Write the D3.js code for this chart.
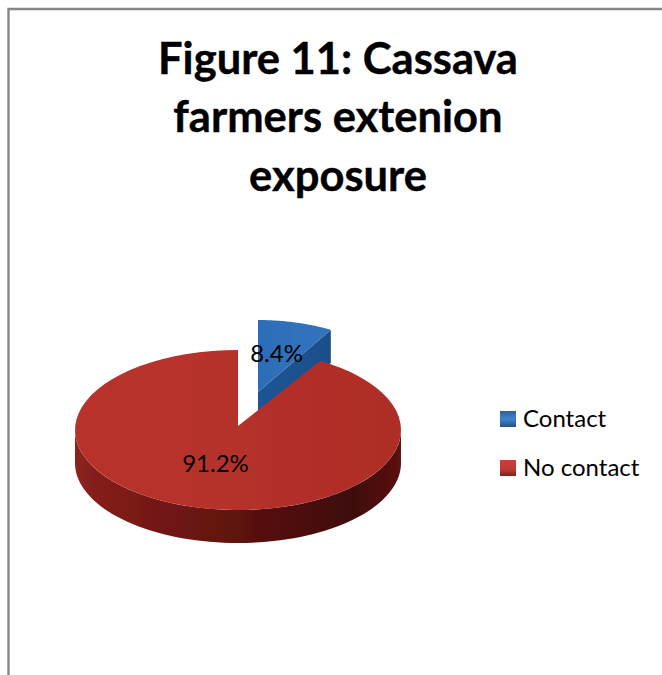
<!DOCTYPE html>
<html><head><meta charset="utf-8">
<script src="https://cdnjs.cloudflare.com/ajax/libs/d3/7.8.5/d3.min.js"></script>
<style>html,body{margin:0;padding:0;background:#fff}svg{display:block}text{font-family:Lato,"Open Sans",sans-serif;fill:#000}</style>
</head><body><svg id="c" width="662" height="675"></svg>
<script>
const titleLines = ["Figure 11: Cassava", "farmers extenion", "exposure"];
const categories = ["Contact", "No contact"];
const values = [8.4, 91.2];
const labels = ["8.4%", "91.2%"];

const W = 662, H = 675;
const svg = d3.select("#c");
svg.append("path").attr("d", d3.line()([[8.5, H], [8.5, 9], [W, 9]]))
  .attr("fill", "none").attr("stroke", "#868686").attr("stroke-width", 2.4);

const defs = svg.append("defs");
function grad(id, stops, x2 = "100%", y2 = "0%") {
  const g = defs.append("linearGradient").attr("id", id)
    .attr("x1", "0%").attr("y1", "0%").attr("x2", x2).attr("y2", y2);
  stops.forEach(([o, c]) => g.append("stop").attr("offset", o).attr("stop-color", c));
}
grad("redSide", [["0", "#8a211c"], ["0.3", "#701613"], ["0.6", "#55100d"], ["0.85", "#3e0a08"], ["1", "#5a120e"]]);
grad("redTop", [["0", "#b8332c"], ["0.5", "#b5302a"], ["1", "#ad2d27"]]);
grad("blueTop", [["0", "#2c6db8"], ["1", "#3474bd"]]);
grad("blueSide", [["0", "#1f5493"], ["1", "#1c4f8a"]]);
grad("swBlue", [["0", "#2d5f9b"], ["0.5", "#3f86cf"], ["1", "#24507f"]], "0%", "100%");
grad("swRed", [["0", "#c9413c"], ["0.6", "#bf3833"], ["1", "#7d1f1c"]], "0%", "100%");
defs.append("filter").attr("id", "soft").append("feGaussianBlur").attr("stdDeviation", 0.7);

const pie = d3.pie().sort(null).value(d => d);
const arcs = pie(values);
const depth = 33;

// projection of a pie angle onto a tilted ellipse
const proj = (c, a, f = 1) => [c.x + f * c.rx * Math.sin(a), c.y - f * c.ry * Math.cos(a)];
const sweep = (a0, a1) => d3.range(0, 73).map(i => a0 + (a1 - a0) * i / 72);
const line = d3.line();

const redGeom = {x: 238, y: 430, rx: 163, ry: 80};
const blueGeom = {x: 258, y: 392, rx: 144, ry: 72};

const g = svg.append("g").attr("filter", "url(#soft)");

// Contact slice (pulled out)
{
  const a = arcs[0], c = blueGeom;
  const rim = sweep(a.startAngle, a.endAngle).map(t => proj(c, t));
  const centre = [c.x, c.y];
  const down = p => [p[0], p[1] + depth];
  const end = proj(c, a.endAngle);
  g.append("path").attr("d", line([centre, end, down(end), down(centre)]) + "Z").attr("fill", "url(#blueSide)");
  g.append("path").attr("d", line([centre, ...rim]) + "Z").attr("fill", "url(#blueTop)");
}
// No contact slice
{
  const a = arcs[1], c = redGeom;
  const front = sweep(Math.PI / 2, 3 * Math.PI / 2).map(t => proj(c, t));
  g.append("path").attr("d", line([...front, ...front.slice().reverse().map(p => [p[0], p[1] + depth])]) + "Z")
    .attr("fill", "url(#redSide)");
  const rim = sweep(a.startAngle, a.endAngle).map(t => proj(c, t));
  g.append("path").attr("d", line([[c.x, c.y - 4], ...rim]) + "Z").attr("fill", "url(#redTop)");
}

// data labels
const labelPos = [[276.5, 362], [215.5, 472]];
svg.selectAll("text.lab").data(labels).join("text").attr("class", "lab")
  .attr("x", (d, i) => labelPos[i][0]).attr("y", (d, i) => labelPos[i][1])
  .attr("text-anchor", "middle").attr("font-size", 24).text(d => d);

// title
svg.selectAll("text.title").data(titleLines).join("text").attr("class", "title")
  .attr("x", 338).attr("y", (d, i) => 74 + i * 58.3)
  .attr("text-anchor", "middle").attr("font-size", 43.5).attr("font-weight", 700)
  .attr("stroke", "#000").attr("stroke-width", 0.4).text(d => d);

// legend
const ly = d3.scalePoint().domain(categories).range([427, 476]);
const leg = svg.selectAll("g.leg").data(categories).join("g").attr("class", "leg")
  .attr("transform", d => `translate(0,${ly(d)})`);
leg.append("rect").attr("x", 500).attr("y", -16).attr("width", 16).attr("height", 16)
  .attr("fill", (d, i) => i ? "url(#swRed)" : "url(#swBlue)").attr("filter", "url(#soft)");
leg.append("text").attr("x", 523).attr("y", 0).attr("font-size", 24).text(d => d);
</script></body></html>
